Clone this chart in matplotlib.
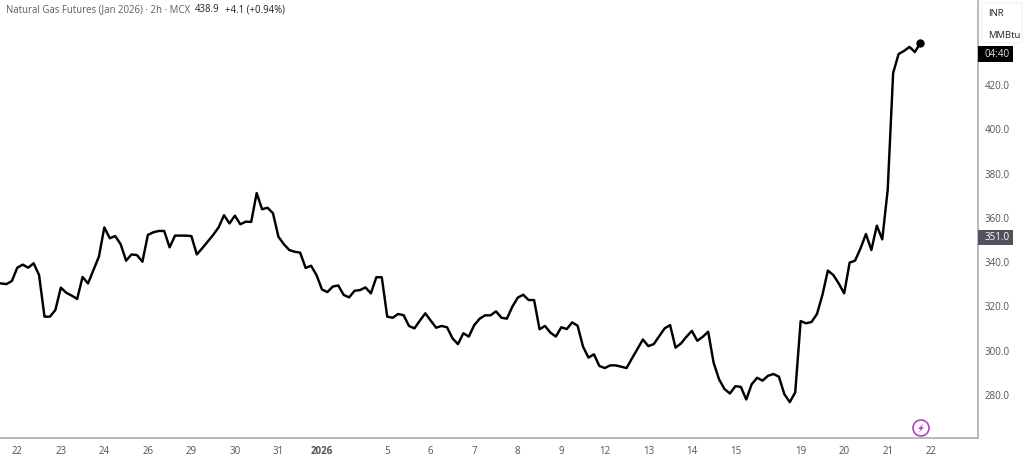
import matplotlib
matplotlib.use("Agg")
import matplotlib.pyplot as plt
from matplotlib.patches import Circle, FancyBboxPatch, Polygon, Rectangle

prices = [
    330.4, 330.1, 331.5, 337.5, 338.9, 337.5, 339.5, 334.2, 315.4, 315.4,
    318.4, 328.5, 326.2, 324.9, 323.4, 333.3, 330.4, 336.5, 342.5, 355.7,
    350.8, 351.8, 348.1, 340.7, 343.5, 343.2, 340.2, 352.3, 353.5, 354.1,
    354.1, 346.7, 352.0, 352.0, 352.0, 351.8, 343.5, 346.3, 349.3, 352.3,
    355.7, 361.2, 357.5, 361.0, 357.1, 358.3, 358.2, 371.2, 363.9, 364.6,
    362.1, 351.5, 348.1, 345.5, 344.7, 344.3, 337.4, 338.4, 334.2, 327.7,
    326.5, 329.0, 329.5, 325.2, 324.1, 327.1, 327.4, 328.6, 325.9, 333.2,
    333.2, 315.4, 314.9, 316.6, 316.1, 311.2, 310.1, 313.6, 316.9, 313.6,
    310.4, 311.2, 310.6, 305.6, 303.0, 307.9, 306.4, 311.6, 314.5, 316.0,
    316.0, 317.8, 314.9, 314.5, 319.9, 324.0, 325.3, 322.9, 322.9, 309.7,
    311.2, 308.2, 306.4, 310.6, 309.8, 312.8, 311.3, 301.8, 296.9, 298.4,
    293.1, 292.2, 293.4, 293.4, 292.8, 292.2, 296.6, 300.8, 305.1, 302.1,
    303.0, 306.6, 310.1, 311.6, 301.4, 303.3, 306.3, 309.0, 304.5, 306.3,
    308.6, 294.6, 287.1, 282.7, 280.7, 284.0, 283.7, 278.0, 284.9, 287.8,
    286.5, 288.7, 289.5, 288.3, 280.4, 276.8, 281.2, 313.4, 312.4, 313.0,
    316.6, 325.2, 336.2, 334.2, 330.4, 325.9, 339.8, 340.7, 346.2, 352.7,
    345.5, 356.5, 350.3, 372.6, 425.4, 434.0, 435.4, 437.2, 434.9, 439.0,
]
bars = list(range(len(prices)))
date_ticks = [3, 11, 19, 27, 35, 43, 51, 59, 71, 79, 87, 95, 103, 111, 119, 127, 135, 147, 155, 163, 171]
date_labels = ["22", "23", "24", "26", "29", "30", "31", "2026", "5", "6", "7", "8", "9", "12", "13", "14", "15", "19", "20", "21", "22"]
price_ticks = [280, 300, 320, 340, 360, 380, 400, 420]
close_price = 351.0

W, H = 1024, 462
GRAY = "#4f5260"
AXC = "#a3a5ae"
FONT = "Open Sans"
plt.rcParams["font.family"] = [FONT, "DejaVu Sans"]

fig = plt.figure(figsize=(W / 100, H / 100), dpi=100, facecolor="white")
ax = fig.add_axes([0, 24 / H, 978 / W, 438 / H])
ax.set_xlim(-0.18, 179.6)
ax.set_ylim(260.6, 458.4)
ax.plot(bars, prices, color="black", lw=1.75, solid_joinstyle="round", clip_on=False)
ax.plot(bars[-1:], prices[-1:], "o", color="black", ms=5)

for s in ("top", "left"):
    ax.spines[s].set_visible(False)
for s in ("right", "bottom"):
    ax.spines[s].set_color(AXC)
    ax.spines[s].set_linewidth(1.1)

ax.set_xticks(date_ticks, date_labels)
ax.set_yticks(price_ticks, [f"{v:.1f}" for v in price_ticks])
ax.yaxis.tick_right()
ax.tick_params(axis="x", length=0, pad=6, labelsize=7, labelcolor=GRAY)
ax.tick_params(axis="y", length=0, pad=5, labelsize=7, labelcolor=GRAY)
for lab in ax.get_xticklabels():
    if lab.get_text() == "2026":
        lab.set_fontweight("bold")

def fx(px):
    return px / W

def fy(py):
    return 1 - py / H

# legend line
fig.text(fx(6), fy(10), "Natural Gas Futures (Jan 2026) · 2h · MCX", fontsize=6.95,
         color="#5a5e6a", va="center", ha="left")
fig.text(fx(195), fy(10), "438.9", fontsize=6.95, color="#222222", va="center", ha="left")
fig.text(fx(225), fy(10), "+4.1 (+0.94%)", fontsize=6.95, color="#222222", va="center", ha="left")

# unit box
fig.add_artist(FancyBboxPatch((fx(982), fy(43)), 40 / W, 40 / H, transform=fig.transFigure,
                              boxstyle="round,pad=0,rounding_size=0.004", fc="white",
                              ec="#f0f0f0", lw=0.8, zorder=3))
fig.text(fx(988), fy(13), "INR", fontsize=6.8, color="#222222", va="center", ha="left", zorder=4)
fig.text(fx(988), fy(35), "MMBtu", fontsize=6.8, color="#222222", va="center", ha="left", zorder=4)

# countdown label
fig.add_artist(Rectangle((fx(978), fy(62)), 35 / W, 16 / H, transform=fig.transFigure,
                         fc="black", ec="none", zorder=3))
fig.text(fx(997), fy(54.5), "04:40", fontsize=7, color="#e8e8e8", va="center", ha="center", zorder=4)

# close price label
y_close = ax.transData.transform((0, close_price))[1]
fig.add_artist(Rectangle((fx(978), (y_close - 7.5) / H), 35 / W, 15 / H, transform=fig.transFigure,
                         fc="#50535e", ec="none", zorder=3))
fig.text(fx(997), y_close / H, f"{close_price:.1f}", fontsize=7, color="white",
         va="center", ha="center", zorder=4)

# purple badge
trans = fig.dpi_scale_trans
fig.add_artist(Circle((921 / 100, (H - 428) / 100), 8 / 100, transform=trans, fc="white",
                      ec="#ab47bc", lw=1.2, zorder=3))
bolt = [(923.5, 423.5), (918, 429), (920.8, 429), (918.5, 433), (924, 427.3), (921.3, 427.3)]
fig.add_artist(Polygon([(x / W, 1 - y / H) for x, y in bolt], closed=True, transform=fig.transFigure,
                       fc="#ab47bc", ec="none", zorder=4))

fig.savefig("out.png", dpi=100, facecolor="white")
